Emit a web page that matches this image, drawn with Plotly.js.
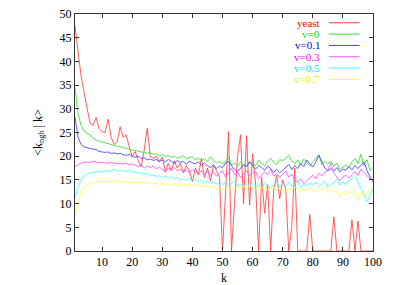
<!DOCTYPE html>
<html>
<head>
<meta charset="utf-8">
<script src="https://cdn.plot.ly/plotly-3.0.1.min.js"></script>
<style>html,body{margin:0;padding:0;background:#fff;}#chart{width:407px;height:285px;}</style>
</head>
<body>
<div id="chart"></div>
<script>
const k = [1,2,3,4,5,6,7,8,9,10,11,12,13,14,15,16,17,18,19,20,21,22,23,24,25,26,27,28,29,30,31,32,33,34,35,36,37,38,39,40,41,42,43,44,45,46,47,48,49,50,51,52,53,54,55,56,57,58,59,60,61,62,63,64,65,66,67,68,69,70,71,72,73,74,75,76,77,78,79,80,81,82,83,84,85,86,87,88,89,90,91,92,93,94,95,96,97,98,99,100];

const seriesNames = ["yeast", "v=0", "v=0.1", "v=0.3", "v=0.5", "v=0.7"];

const yeast = [47.5,42.5,37,33.5,30,27,26.5,28.2,25.8,25.2,
  25,27.8,24,22.5,23,26.2,24,24.5,22,20,
  21,19,17.8,21.3,25.9,20,19.5,20,18.8,19.8,
  16.7,18.5,17,19,17.5,18.5,16.5,18,17,14.6,
  17.5,16,19.5,15.5,17.5,14.8,18,17,15.5,0,
  12,25.2,0,11,20,24.5,10,24.3,9.7,20.5,
  14,0,15.5,8,14,0,12.8,16,11,15,
  13,0,5,17.5,0,0,0,0,7.7,0,
  0,0,0,0,0,0,7.2,0,0,0,
  0,0,6.6,0,6.3,0,0,0,0,0];

const v0 = [34.5,29,26.5,25.3,24.8,24.5,23.8,23.4,23.2,23.0,
  22.9,22.6,22.4,22.3,22.1,22.0,21.8,21.6,21.5,21.3,
  21.2,21.0,20.9,20.8,20.6,20.7,20.4,20.5,20.1,20.3,
  19.9,20.2,19.7,20.0,19.6,19.8,20.1,19.4,19.7,19.9,
  19.2,19.6,19.0,19.5,18.8,19.9,19.1,18.6,18.9,18.4,
  18.7,19.9,18.0,18.6,17.9,18.8,18.2,17.8,18.9,18.3,
  18.0,19.2,18.5,18.0,19.0,19.5,18.7,18.2,19.3,19.0,
  19.6,20.2,19.0,18.5,19.2,18.1,19.4,18.6,18.0,18.8,
  19.6,20.3,18.2,18.9,18.3,19.0,17.9,18.5,17.2,17.8,
  18.2,17.6,18.8,19.5,18.4,20.4,18.0,19.3,17.0,17.6];

const v01 = [28.3,24,22.5,22,21.8,21.6,21.5,21.4,21.0,20.9,
  20.8,20.9,20.6,20.7,20.5,20.6,20.3,20.2,20.4,19.9,
  19.8,20.0,19.5,19.7,19.2,19.4,19.1,19.3,18.9,19.2,
  18.8,19.3,18.9,18.5,19.1,18.7,18.9,18.3,19.0,18.6,
  18.4,18.8,18.1,18.6,18.0,17.6,18.2,17.4,17.9,17.6,
  18.5,18.9,18.0,17.2,16.7,17.5,18.2,17.8,18.8,18.0,
  17.3,18.0,17.6,17.0,17.9,17.4,16.6,17.2,16.5,17.0,
  17.6,18.3,17.2,18.0,17.4,18.5,17.8,19.2,18.4,17.7,
  18.8,20.2,18.9,17.5,16.9,17.4,16.8,17.6,16.7,17.3,
  17.0,17.8,17.1,18.0,17.4,18.2,18.8,17.0,15.6,14.6];

const v03 = [17.8,18.2,18.5,18.7,18.8,18.7,18.9,18.8,18.6,18.7,
  18.6,18.5,18.7,18.6,18.4,18.5,18.3,18.5,18.2,18.4,
  18.1,17.8,18.2,17.5,17.9,17.6,18.0,17.3,17.7,17.2,
  16.7,17.5,17.0,17.6,16.9,17.3,16.6,17.1,16.5,17.2,
  16.8,16.3,17.0,16.2,16.9,16.0,16.6,15.8,16.4,16.9,
  15.6,16.5,17.5,16.0,16.8,15.4,16.2,17.0,15.8,16.5,
  16.8,15.2,16.0,16.7,16.1,17.2,15.8,16.4,15.5,16.3,
  16.9,15.6,16.2,15.0,14.6,15.2,14.2,14.8,15.4,16.0,
  15.2,16.4,15.8,16.6,17.0,18.5,16.4,15.5,14.8,15.6,
  16.0,15.4,16.2,16.8,15.9,17.3,16.6,15.8,15.2,15.0];

const v05 = [11.1,13.5,15.0,15.8,16.2,16.5,16.6,16.7,16.8,16.6,
  16.9,16.8,17.0,17.2,16.8,17.1,16.9,16.8,16.9,16.6,
  16.7,16.4,16.5,16.2,16.3,15.9,16.1,15.7,15.9,15.5,
  15.8,15.3,15.6,15.2,15.5,15.0,15.3,14.8,15.4,14.7,
  15.1,14.6,14.9,14.4,14.8,14.3,14.6,14.1,14.5,14.0,
  14.4,13.8,14.3,14.6,13.7,14.1,13.5,14.2,13.8,14.4,
  13.6,14.0,13.4,14.3,13.8,13.2,14.0,14.6,13.5,14.2,
  13.8,14.5,13.6,14.0,14.7,13.4,14.1,13.7,14.3,13.9,
  14.5,13.6,14.2,14.8,13.5,14.0,14.4,15.2,13.8,14.6,
  14.0,14.9,15.3,15.9,14.6,13.2,12.0,10.4,11.8,13.2];

const v07 = [7.5,10.5,12.5,13.5,14.0,14.3,14.5,14.6,14.6,14.7,
  14.7,14.6,14.7,14.8,14.7,14.6,14.7,14.5,14.6,14.4,
  14.5,14.3,14.5,14.4,14.2,14.5,14.1,14.4,14.0,14.3,
  13.9,14.2,14.0,14.3,13.8,14.1,13.9,14.2,13.7,14.0,
  13.8,14.1,13.6,13.9,13.5,13.8,13.4,13.1,13.3,12.9,
  13.2,13.4,13.0,13.3,13.5,13.2,13.6,13.3,13.8,13.4,
  13.1,13.5,13.2,13.7,12.9,13.3,13.6,12.8,13.4,13.0,
  12.6,13.3,12.8,13.5,13.1,12.4,13.2,12.7,13.4,13.0,
  12.5,13.2,12.9,13.4,12.6,13.1,12.3,12.8,11.6,12.4,
  11.8,12.6,12.1,13.0,10.7,12.2,12.5,11.9,13.0,12.5];

const xTicks = [10,20,30,40,50,60,70,80,90,100];
const yTicks = [0,5,10,15,20,25,30,35,40,45,50];

const allSeries = [yeast, v0, v01, v03, v05, v07];
const lineColors = ["#ff4040", "#30e030", "#4040ff", "#ff50ff", "#40ffff", "#ffff40"];
const textColors = ["#ff0000", "#00e000", "#0000e0", "#ff00ff", "#00e8e8", "#f0f000"];

const traces = allSeries.map((ys, i) => ({
  x: k, y: ys, type: "scatter", mode: "lines", name: seriesNames[i],
  line: {color: lineColors[i], width: 0.85}, showlegend: false
}));

const FONT = "Liberation Serif, Times New Roman, serif";
const annotations = [];
const shapes = [];
seriesNames.forEach((nm, i) => {
  const yy = 0.963 - i * 0.0478;
  annotations.push({text: nm, xref: "paper", yref: "paper", x: 0.827, y: yy,
    xanchor: "right", yanchor: "middle", showarrow: false, borderpad: 0,
    font: {family: FONT, size: 11, color: textColors[i]}});
  shapes.push({type: "line", xref: "paper", yref: "paper", x0: 0.852, x1: 0.955, y0: yy, y1: yy,
    line: {color: lineColors[i], width: 1}});
});

const axisCommon = {
  showline: true, mirror: "ticks", linecolor: "#333", linewidth: 1,
  ticks: "inside", ticklen: 4, tickcolor: "#333", tickwidth: 1,
  showgrid: false, zeroline: false,
  tickfont: {family: FONT, size: 12, color: "#000"}
};

const layout = {
  width: 407, height: 285,
  margin: {l: 75, r: 34, t: 14, b: 34},
  paper_bgcolor: "#fff", plot_bgcolor: "#fff",
  xaxis: Object.assign({}, axisCommon, {
    range: [1, 100], tickvals: xTicks, ticktext: xTicks.map(String),
    title: {text: "k", font: {family: FONT, size: 12, color: "#000"}, standoff: 5}
  }),
  yaxis: Object.assign({}, axisCommon, {
    range: [0, 50], tickvals: yTicks, ticktext: yTicks.map(String),
    title: {text: "&lt;k<sub>ngh</sub> | k&gt;", font: {family: FONT, size: 12, color: "#000"}, standoff: 14}
  }),
  annotations: annotations,
  shapes: shapes,
  showlegend: false
};

Plotly.newPlot("chart", traces, layout, {staticPlot: true, displayModeBar: false});
</script>
</body>
</html>
